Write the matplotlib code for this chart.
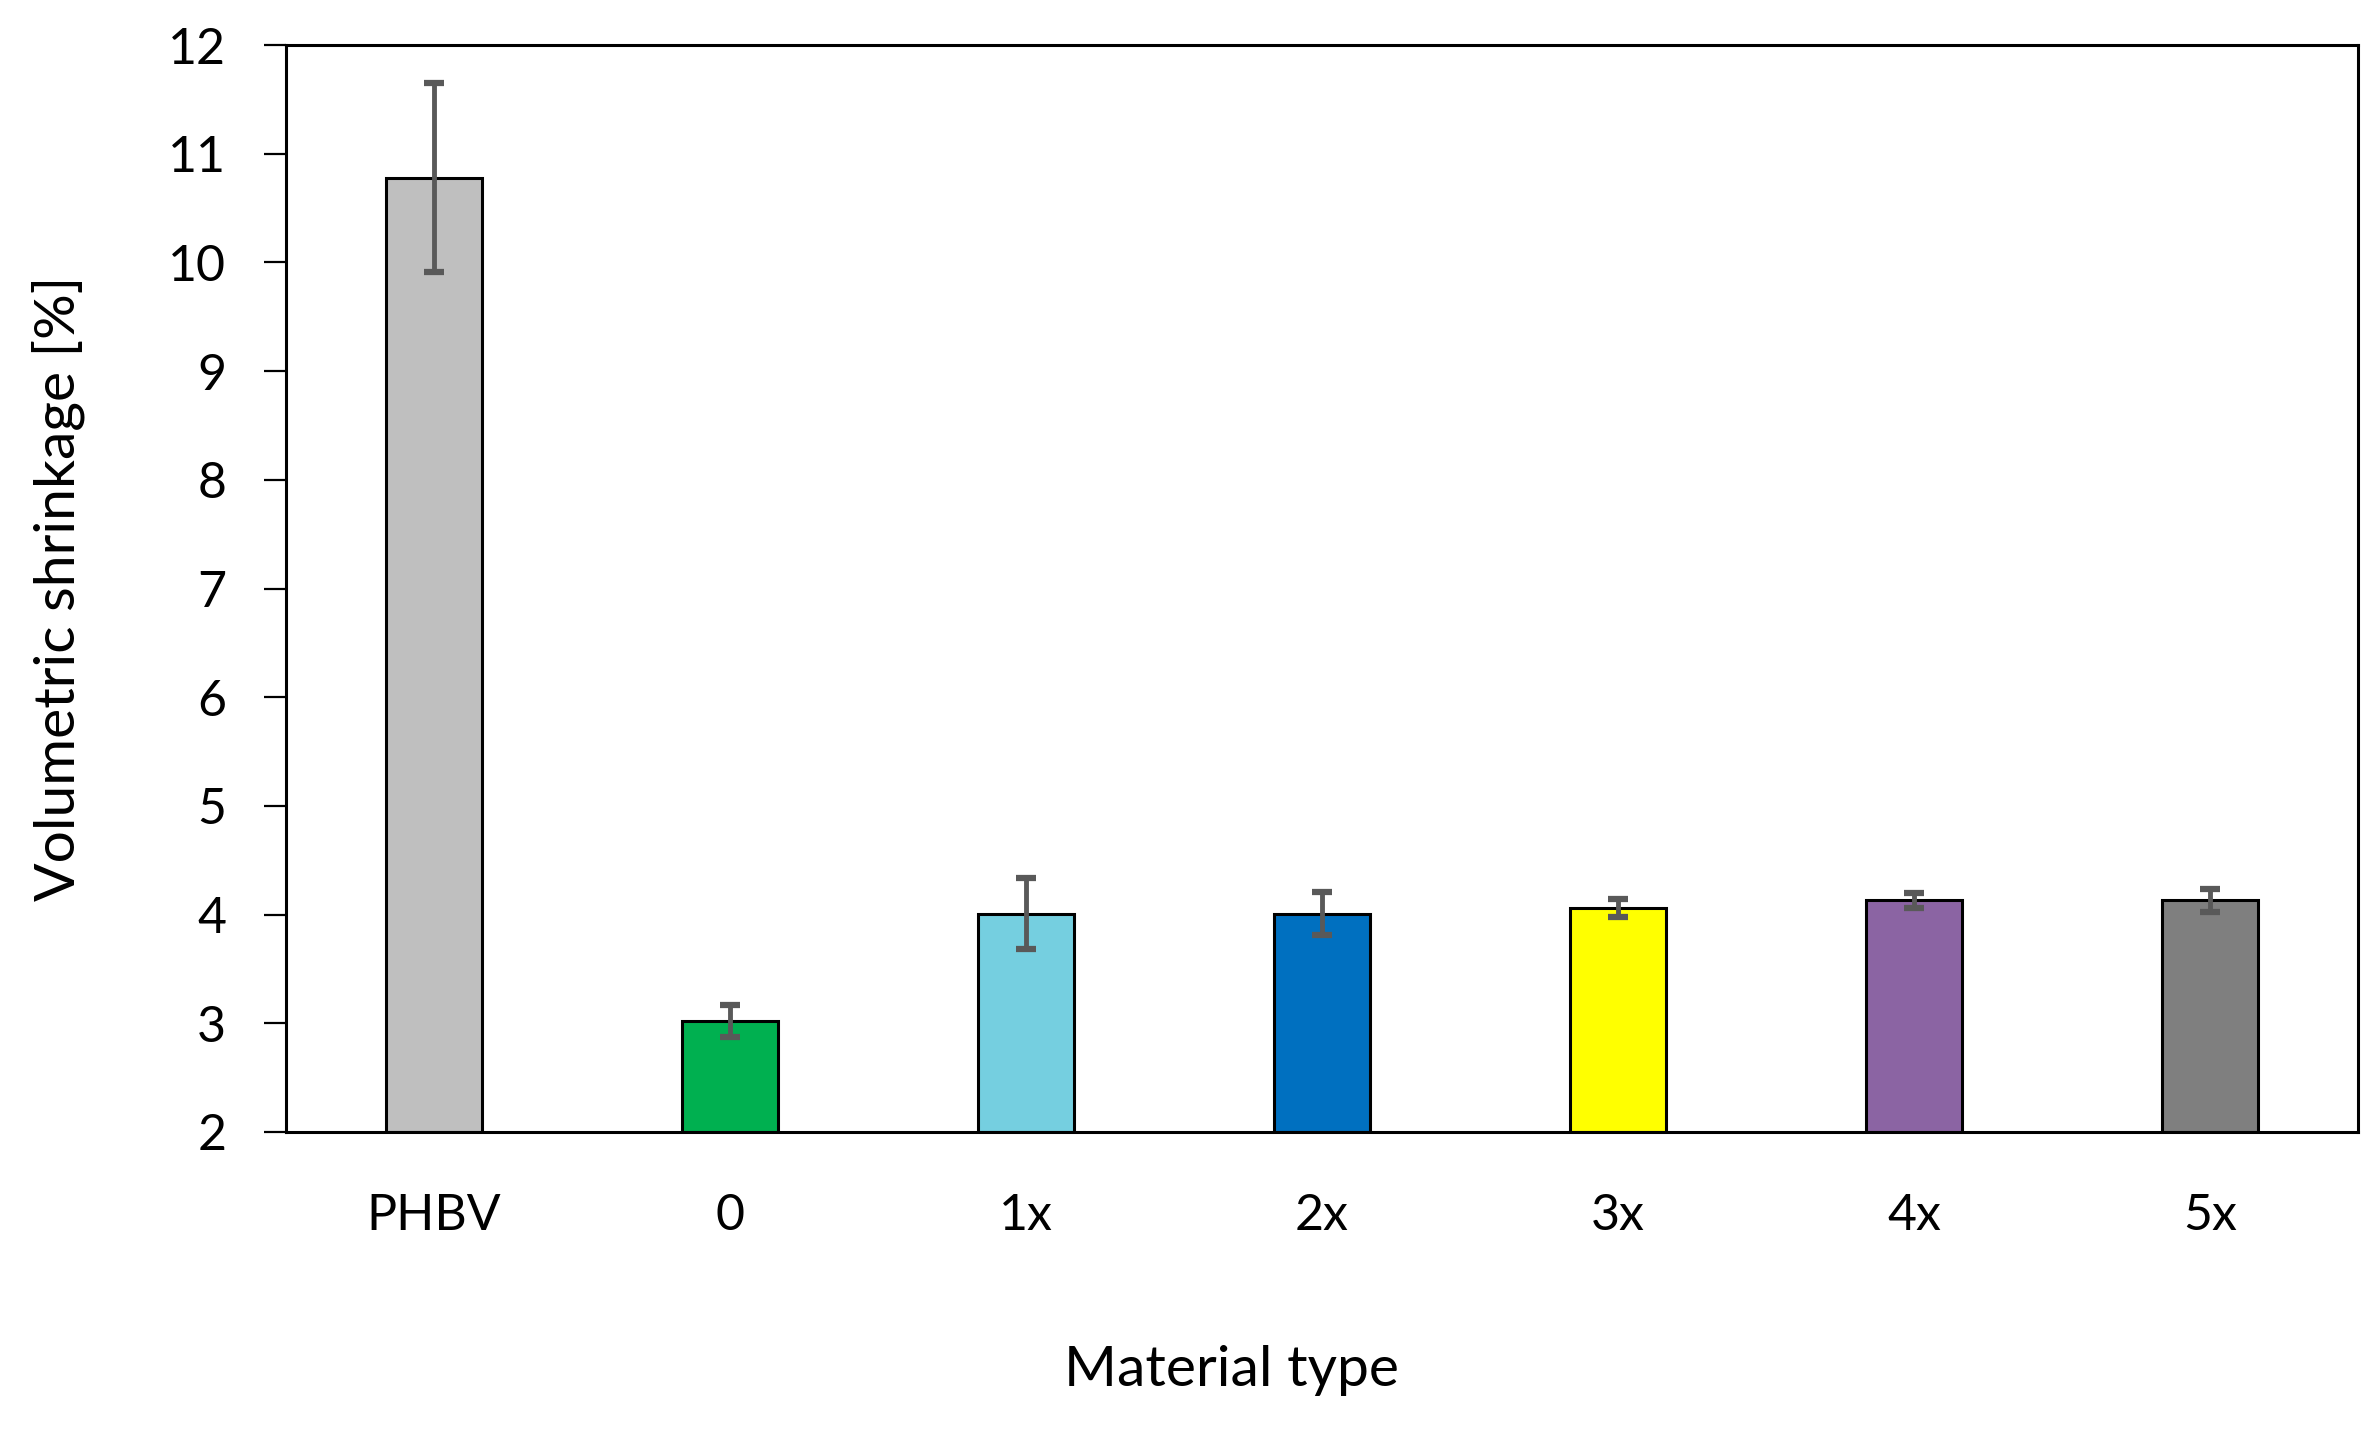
import numpy as np
import matplotlib.pyplot as plt

# data
materials = ["PHBV", "0", "1x", "2x", "3x", "4x", "5x"]
shrinkage = [10.78, 3.02, 4.01, 4.01, 4.06, 4.13, 4.13]
shrinkage_err = [0.87, 0.15, 0.33, 0.20, 0.08, 0.07, 0.11]
bar_colors = ["#BFBFBF", "#00B050", "#75CFE0", "#0070C0", "#FFFF00", "#8B64A3", "#7F7F7F"]

plt.rcParams["font.family"] = ["Lato", "DejaVu Sans"]

fig = plt.figure(figsize=(23.78, 14.32), dpi=100)
ax = fig.add_axes([286 / 2378, 1 - 1132 / 1432, (2358 - 286) / 2378, (1132 - 45) / 1432])

x = np.arange(len(materials))
ax.bar(x, np.array(shrinkage) - 2, bottom=2, width=0.325, color=bar_colors,
       edgecolor="black", linewidth=2.2, zorder=2)
ax.errorbar(x, shrinkage, yerr=shrinkage_err, fmt="none", ecolor="#595959",
            elinewidth=3.5, capsize=7, capthick=4.5, zorder=3)

ax.set_xlim(-0.5, len(materials) - 0.5)
ax.set_ylim(2, 12)
ax.set_yticks(np.arange(2, 13, 1))
ax.set_xticks(x)
ax.set_xticklabels(materials)

for s in ax.spines.values():
    s.set_linewidth(2.2)
    s.set_color("black")

ax.tick_params(axis="y", direction="out", length=16, width=1.6, pad=27, labelsize=36)
ax.tick_params(axis="x", length=0, pad=44, labelsize=36)

ax.set_xlabel("Material type", fontsize=41)
ax.set_ylabel("Volumetric shrinkage [%]", fontsize=41)
ax.xaxis.set_label_coords((1232 - 286) / (2358 - 286), (1132 - 1370) / (1132 - 45))
ax.xaxis.label.set_va("center")
ax.yaxis.set_label_coords((58 - 286) / (2358 - 286), 0.5)
ax.yaxis.label.set_va("center")

fig.savefig("out.png", dpi=100)
